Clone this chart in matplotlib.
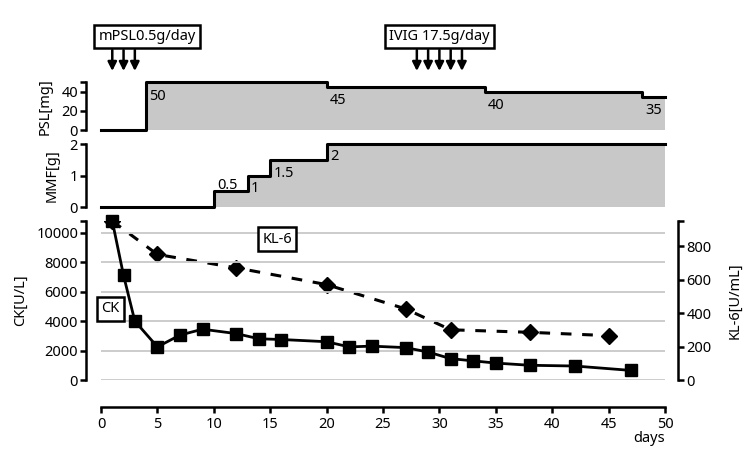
import numpy as np
import matplotlib.pyplot as plt
from matplotlib.transforms import blended_transform_factory

plt.rcParams["font.family"] = ["Noto Sans", "DejaVu Sans"]
plt.rcParams["font.weight"] = "medium"

# === data ===
psl_days = [0, 4, 20, 34, 48, 50]
psl_dose = [0, 50, 45, 40, 35, 35]
psl_labels = ["50", "45", "40", "35"]

mmf_days = [0, 10, 13, 15, 20, 50]
mmf_dose = [0, 0.5, 1, 1.5, 2, 2]
mmf_labels = ["0.5", "1", "1.5", "2"]

ck_days = [1, 2, 3, 5, 7, 9, 12, 14, 16, 20, 22, 24, 27, 29, 31, 33, 35, 38, 42, 47]
ck_vals = [10800, 7100, 4000, 2250, 3050, 3450, 3150, 2800, 2750, 2600,
           2250, 2300, 2200, 1900, 1450, 1300, 1150, 1000, 950, 650]

kl_days = [1, 5, 12, 20, 27, 31, 38, 45]
kl_vals = [950, 750, 670, 570, 425, 300, 285, 265]

mpsl_days = [1, 2, 3]
ivig_days = [28, 29, 30, 31, 32]

# === layout (pixels -> figure fraction) ===
W, H = 750, 459
fig = plt.figure(figsize=(W / 100, H / 100), dpi=100)
x0, xw = 101 / W, 564 / W
ax_psl = fig.add_axes([x0, 1 - 130 / H, xw, 47.7 / H])
ax_mmf = fig.add_axes([x0, 1 - 207.3 / H, xw, 63.3 / H])
ax_ck = fig.add_axes([x0, 1 - 380 / H, xw, 159 / H])
ax_kl = ax_ck.twinx()

fs = 10.5
lw_spine = 1.8
lw_line = 2.2
gray = "#c8c8c8"


def style_left(ax, top):
    for s in ["top", "right", "bottom"]:
        ax.spines[s].set_visible(False)
    ax.spines["left"].set_position(("outward", 10.5))
    ax.spines["left"].set_linewidth(lw_spine)
    ax.set_xlim(0, 50)
    ax.set_xticks([])
    ax.set_yticks([top], minor=True)
    ax.tick_params(axis="y", which="both", length=4.5, width=lw_spine,
                   labelsize=fs, pad=1.5)


# === PSL panel ===
style_left(ax_psl, 50)
ax_psl.set_ylim(0, 50)
ax_psl.set_yticks([0, 20, 40])
ax_psl.fill_between(psl_days, psl_dose, step="post", color=gray, lw=0)
ax_psl.step(psl_days, psl_dose, where="post", color="black", lw=lw_line, clip_on=False)
for d, v, t in zip(psl_days[1:5], psl_dose[1:5], psl_labels):
    ax_psl.text(d + 0.25, v - 14.5, t, fontsize=fs, va="center", ha="left")
ax_psl.set_ylabel("PSL[mg]", fontsize=fs)
ax_psl.yaxis.set_label_coords(-0.085, 0.5)

# === MMF panel ===
style_left(ax_mmf, 2)
ax_mmf.set_ylim(0, 2)
ax_mmf.set_yticks([0, 1, 2])
ax_mmf.fill_between(mmf_days, mmf_dose, step="post", color=gray, lw=0)
ax_mmf.step(mmf_days, mmf_dose, where="post", color="black", lw=lw_line, clip_on=False)
mmf_offsets = [0.19, -0.42, -0.42, -0.41]
for d, v, t, o in zip(mmf_days[1:5], mmf_dose[1:5], mmf_labels, mmf_offsets):
    ax_mmf.text(d + 0.3, v + o, t, fontsize=fs, va="center", ha="left")
ax_mmf.set_ylabel("MMF[g]", fontsize=fs)
ax_mmf.yaxis.set_label_coords(-0.073, 0.5)

# === CK / KL-6 panel ===
ax_ck.set_xlim(0, 50)
ax_ck.set_ylim(0, 10800)
ax_kl.set_ylim(0, 950)
for s in ["top", "right"]:
    ax_ck.spines[s].set_visible(False)
for s in ["top", "left", "bottom"]:
    ax_kl.spines[s].set_visible(False)
ax_ck.spines["left"].set_position(("outward", 10.5))
ax_ck.spines["bottom"].set_position(("outward", 19.5))
ax_kl.spines["right"].set_position(("outward", 9.5))
for sp in [ax_ck.spines["left"], ax_ck.spines["bottom"], ax_kl.spines["right"]]:
    sp.set_linewidth(lw_spine)

ax_ck.set_yticks(np.arange(0, 10001, 2000))
ax_ck.set_yticks([10800], minor=True)
ax_ck.set_xticks(np.arange(0, 51, 5))
ax_ck.tick_params(axis="both", which="both", length=4.5, width=lw_spine,
                  labelsize=fs, pad=1.5)
ax_ck.tick_params(axis="x", pad=3)
ax_kl.set_yticks([0, 200, 400, 600, 800])
ax_kl.set_yticks([950], minor=True)
ax_kl.tick_params(axis="y", which="both", length=4.5, width=lw_spine,
                  labelsize=fs, pad=1.5)

ax_ck.yaxis.grid(True, color=gray, lw=1.3)
ax_ck.set_axisbelow(True)

ax_kl.plot(kl_days, kl_vals, color="black", lw=2.2, ls=(0, (3.5, 3.5)),
           marker="D", ms=8, zorder=2)
ax_ck.set_zorder(ax_kl.get_zorder() + 1)
ax_ck.patch.set_visible(False)
ax_ck.plot(ck_days, ck_vals, color="black", lw=2, marker="s", ms=9,
           clip_on=False, zorder=3)

ax_ck.set_ylabel("CK[U/L]", fontsize=fs)
ax_ck.yaxis.set_label_coords(-0.129, 0.5)
ax_kl.set_ylabel("KL-6[U/mL]", fontsize=fs)
ax_kl.yaxis.set_label_coords(1.11, 0.5)

ax_ck.text(50, -0.365, "days", transform=ax_ck.get_xaxis_transform(),
           fontsize=fs, ha="right", va="center")

box = dict(boxstyle="square,pad=0.3", fc="white", ec="black", lw=1.8)
ax_ck.text(15.6, 9570, "KL-6", fontsize=fs, ha="center", va="center", bbox=box)
ax_ck.text(0.83, 4840, "CK", fontsize=fs, ha="center", va="center", bbox=box)

# === treatment boxes and arrows ===
trans = blended_transform_factory(ax_psl.transData, fig.transFigure)
y_box = 1 - 36.5 / H
y_start = 1 - 50 / H
y_tip = 1 - 71 / H
fig.text(np.mean(mpsl_days) + 2.1, y_box, "mPSL0.5g/day", transform=trans,
         fontsize=fs, ha="center", va="center", bbox=box)
fig.text(np.mean(ivig_days), y_box, "IVIG 17.5g/day", transform=trans,
         fontsize=fs, ha="center", va="center", bbox=box)
for d in mpsl_days + ivig_days:
    ax_psl.annotate("", xy=(d, y_tip), xytext=(d, y_start), xycoords=trans,
                    textcoords=trans, annotation_clip=False,
                    arrowprops=dict(arrowstyle="-|>", color="black", lw=1.8,
                                    mutation_scale=13, shrinkA=0, shrinkB=0))

fig.savefig("out.png", dpi=100)
